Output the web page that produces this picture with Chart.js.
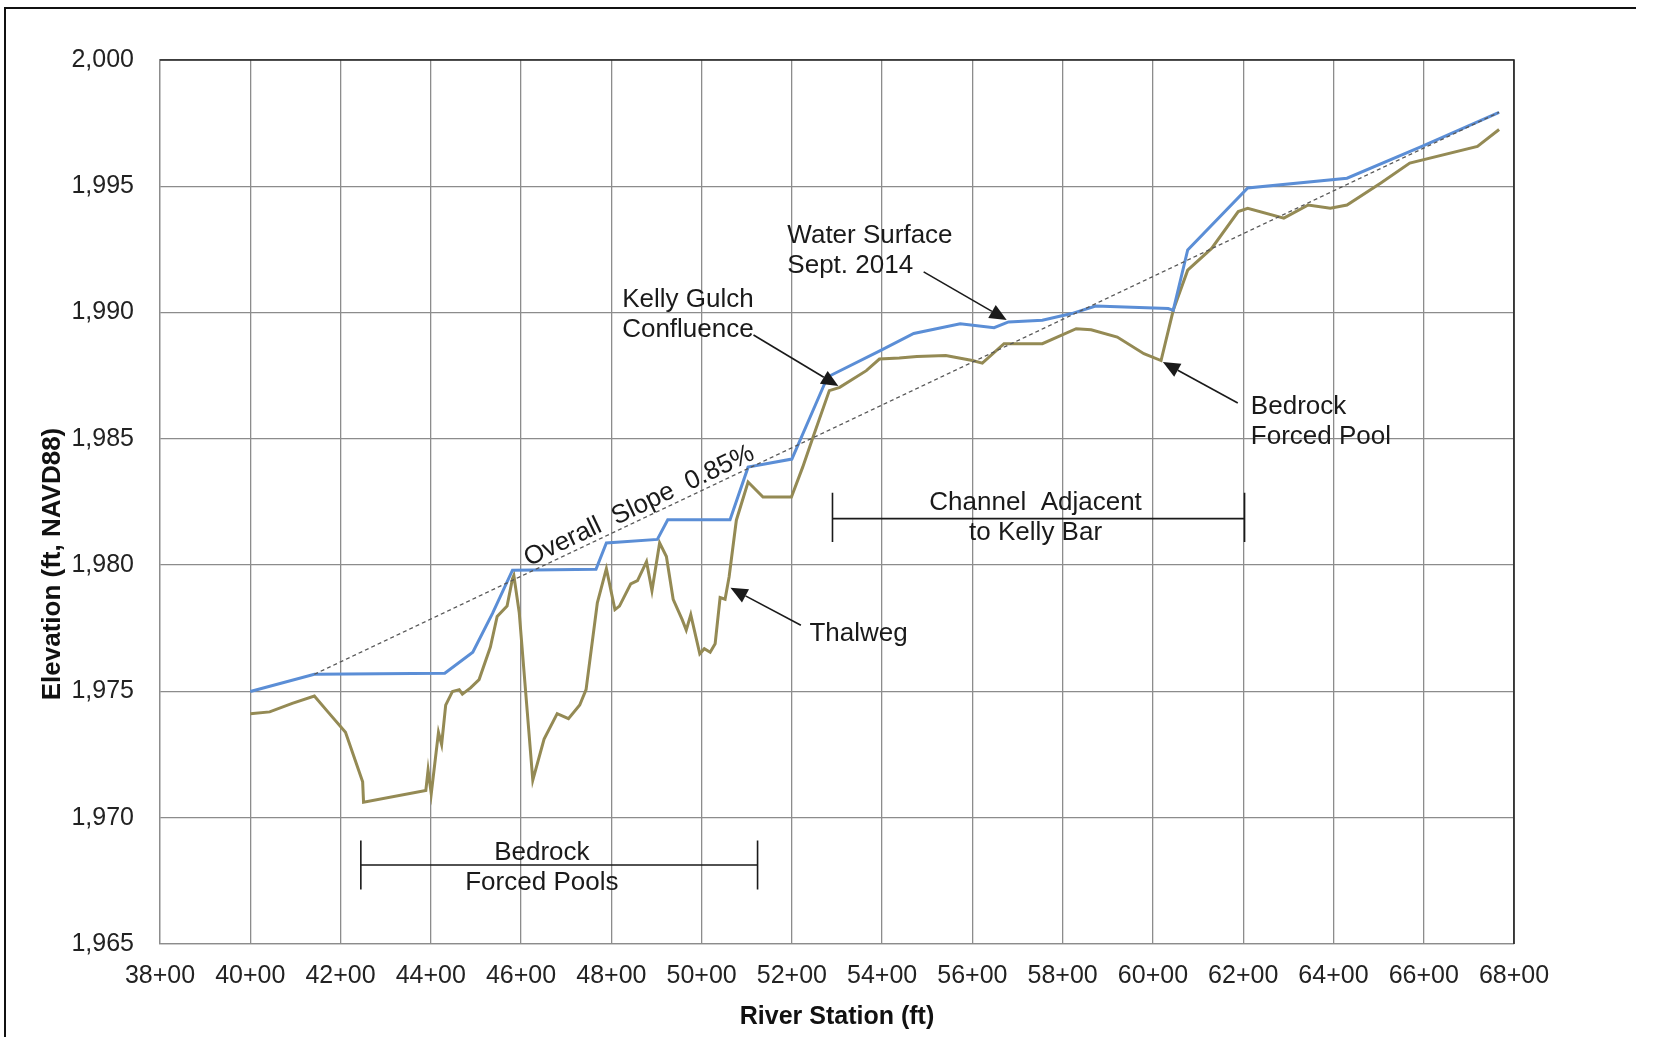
<!DOCTYPE html>
<html>
<head>
<meta charset="utf-8">
<script src="https://cdn.jsdelivr.net/npm/chart.js@4.4.1/dist/chart.umd.min.js"></script>
<style>
  html, body { margin: 0; padding: 0; background: #fff; overflow: hidden; }
  #wrap { position: relative; width: 1658px; height: 1037px; }
  #frame { position: absolute; left: 4px; top: 7px; width: 1630px; height: 1060px;
           border-left: 2px solid #111; border-top: 2px solid #111; pointer-events: none; }
</style>
</head>
<body>
<div id="wrap">
  <canvas id="profileChart"></canvas>
  <div id="frame"></div>
</div>
<script>
// River station in feet, elevation in ft NAVD88
const waterSurface = [
  [4000, 1975.00], [4142, 1975.68], [4431, 1975.72], [4493, 1976.55], [4537, 1978.10],
  [4581, 1979.80], [4766, 1979.84], [4789, 1980.88], [4902, 1981.02], [4925, 1981.80],
  [5063, 1981.80], [5103, 1983.88], [5200, 1984.20], [5279, 1987.45], [5397, 1988.50],
  [5470, 1989.17], [5573, 1989.56], [5648, 1989.40], [5680, 1989.63], [5755, 1989.70],
  [5820, 1989.96], [5873, 1990.26], [6034, 1990.16], [6045, 1990.09], [6077, 1992.48],
  [6210, 1994.93], [6430, 1995.32], [6596, 1996.58], [6767, 1997.93]
];

const thalweg = [
  [4000, 1974.12], [4043, 1974.19], [4093, 1974.53], [4142, 1974.82], [4172, 1974.19],
  [4211, 1973.38], [4249, 1971.42], [4251, 1970.61], [4389, 1971.08], [4394, 1971.89],
  [4401, 1970.95], [4417, 1973.38], [4424, 1972.90], [4433, 1974.46], [4448, 1975.00],
  [4463, 1975.07], [4470, 1974.89], [4488, 1975.14], [4507, 1975.47], [4532, 1976.76],
  [4547, 1977.97], [4569, 1978.38], [4581, 1979.46], [4584, 1979.59], [4596, 1978.11],
  [4626, 1971.49], [4651, 1973.11], [4680, 1974.12], [4705, 1973.92], [4730, 1974.46],
  [4744, 1975.07], [4769, 1978.51], [4789, 1979.86], [4808, 1978.24], [4818, 1978.38],
  [4843, 1979.26], [4858, 1979.39], [4878, 1980.14], [4890, 1978.99], [4907, 1980.88],
  [4922, 1980.34], [4937, 1978.65], [4957, 1977.84], [4966, 1977.43], [4976, 1978.04],
  [4996, 1976.49], [5006, 1976.69], [5019, 1976.55], [5030, 1976.89], [5041, 1978.72],
  [5052, 1978.65], [5061, 1979.54], [5077, 1981.78], [5103, 1983.29], [5136, 1982.70],
  [5199, 1982.70], [5224, 1983.88], [5247, 1985.07], [5283, 1986.91], [5306, 1987.04],
  [5365, 1987.70], [5394, 1988.16], [5438, 1988.20], [5477, 1988.26], [5541, 1988.30],
  [5600, 1988.10], [5622, 1988.00], [5670, 1988.77], [5755, 1988.77], [5830, 1989.36],
  [5863, 1989.32], [5921, 1989.03], [5980, 1988.37], [6018, 1988.10], [6045, 1990.09],
  [6077, 1991.68], [6130, 1992.54], [6189, 1994.00], [6210, 1994.13], [6290, 1993.74],
  [6344, 1994.26], [6393, 1994.13], [6430, 1994.26], [6505, 1995.13], [6569, 1995.92],
  [6719, 1996.58], [6767, 1997.25]
];

// overall slope trend (0.85%)
const slopeLine = [[4142, 1975.68], [6767, 1997.93]];

// axis ranges / ticks
const stationTicks = [3800, 6800, 200];
const elevTicks = [1965, 2000, 5];

// callout labels, in data units: [station, elevation]
const textNotes = [
  { at: [4824, 1990.22], lines: ['Kelly Gulch', 'Confluence'], align: 'left' },
  { at: [5190, 1992.76], lines: ['Water Surface', 'Sept. 2014'], align: 'left' },
  { at: [6217, 1986.00], lines: ['Bedrock', 'Forced Pool'], align: 'left' },
  { at: [5239, 1977.00], lines: ['Thalweg'], align: 'left' },
  { at: [5740, 1982.18], lines: ['Channel  Adjacent', 'to Kelly Bar'], align: 'center' },
  { at: [4646, 1968.33], lines: ['Bedrock', 'Forced Pools'], align: 'center' }
];
const arrowNotes = [
  { from: [5115, 1989.11], to: [5303, 1987.09] },
  { from: [5492, 1991.61], to: [5676, 1989.71] },
  { from: [6188, 1986.42], to: [6022, 1988.04] },
  { from: [5220, 1977.62], to: [5064, 1979.10] }
];
const brackets = [
  { x0: 5290, x1: 6203, y: 1981.84, top: 1982.87, bottom: 1980.92 },
  { x0: 4245, x1: 5124, y: 1968.13, top: 1969.10, bottom: 1967.16 }
];
const slopeLabel = { at: [4862, 1982.34], text: 'Overall  Slope  0.85%' };

const toPoints = arr => arr.map(p => ({ x: p[0], y: p[1] }));
const FONT = '"Liberation Sans", Arial, sans-serif';

function drawArrow(ctx, x1, y1, x2, y2) {
  const ang = Math.atan2(y2 - y1, x2 - x1);
  const len = 17, half = 7.5;
  const bx = x2 - len * Math.cos(ang), by = y2 - len * Math.sin(ang);
  ctx.beginPath();
  ctx.moveTo(x1, y1);
  ctx.lineTo(bx, by);
  ctx.stroke();
  ctx.beginPath();
  ctx.moveTo(x2, y2);
  ctx.lineTo(bx + half * Math.sin(ang), by - half * Math.cos(ang));
  ctx.lineTo(bx - half * Math.sin(ang), by + half * Math.cos(ang));
  ctx.closePath();
  ctx.fill();
}

const notesPlugin = {
  id: 'notes',
  afterDatasetsDraw(chart) {
    const { ctx, chartArea: area, scales: { x, y } } = chart;
    const px = v => x.getPixelForValue(v);
    const py = v => y.getPixelForValue(v);
    ctx.save();

    // darker top and right edge of the plot area
    ctx.strokeStyle = '#222';
    ctx.lineWidth = 1.6;
    ctx.beginPath();
    ctx.moveTo(area.left, area.top);
    ctx.lineTo(area.right, area.top);
    ctx.lineTo(area.right, area.bottom);
    ctx.stroke();

    ctx.fillStyle = '#1a1a1a';
    ctx.strokeStyle = '#1a1a1a';
    ctx.lineWidth = 1.6;
    ctx.font = '26px ' + FONT;
    ctx.textBaseline = 'alphabetic';

    textNotes.forEach(n => {
      ctx.textAlign = n.align;
      n.lines.forEach((t, i) => ctx.fillText(t, px(n.at[0]), py(n.at[1]) + i * 30));
    });

    arrowNotes.forEach(a => drawArrow(ctx, px(a.from[0]), py(a.from[1]), px(a.to[0]), py(a.to[1])));

    brackets.forEach(b => {
      ctx.beginPath();
      ctx.moveTo(px(b.x0), py(b.y));
      ctx.lineTo(px(b.x1), py(b.y));
      ctx.moveTo(px(b.x0), py(b.top));
      ctx.lineTo(px(b.x0), py(b.bottom));
      ctx.moveTo(px(b.x1), py(b.top));
      ctx.lineTo(px(b.x1), py(b.bottom));
      ctx.stroke();
    });

    // slope label follows the angle of the trend line
    const ang = Math.atan2(py(slopeLine[1][1]) - py(slopeLine[0][1]), px(slopeLine[1][0]) - px(slopeLine[0][0]));
    ctx.save();
    ctx.translate(px(slopeLabel.at[0]), py(slopeLabel.at[1]));
    ctx.rotate(ang);
    ctx.textAlign = 'center';
    ctx.textBaseline = 'middle';
    ctx.fillText(slopeLabel.text, 0, 0);
    ctx.restore();

    // y axis title (sits a bit below the axis centre in the original)
    ctx.save();
    ctx.translate(53, (area.top + area.bottom) / 2 + 62);
    ctx.rotate(-Math.PI / 2);
    ctx.font = 'bold 26px ' + FONT;
    ctx.fillStyle = '#111';
    ctx.textAlign = 'center';
    ctx.textBaseline = 'middle';
    ctx.fillText('Elevation (ft, NAVD88)', 0, 0);
    ctx.restore();

    ctx.restore();
  }
};

const ctx = document.getElementById('profileChart').getContext('2d');
const chart = new Chart(ctx, {
  type: 'scatter',
  data: {
    datasets: [
      {
        label: 'Overall Slope',
        data: toPoints(slopeLine),
        showLine: true,
        borderColor: '#555',
        borderWidth: 1.3,
        borderDash: [4, 3],
        pointRadius: 0
      },
      {
        label: 'Water Surface Sept. 2014',
        data: toPoints(waterSurface),
        showLine: true,
        borderColor: '#5b8ed6',
        borderWidth: 3,
        pointRadius: 0
      },
      {
        label: 'Thalweg',
        data: toPoints(thalweg),
        showLine: true,
        borderColor: '#948a54',
        borderWidth: 3,
        pointRadius: 0
      }
    ]
  },
  options: {
    responsive: true,
    maintainAspectRatio: false,
    animation: false,
    layout: { padding: { left: 0, top: 60, right: 144, bottom: 0 } },
    plugins: {
      legend: { display: false },
      tooltip: { enabled: false }
    },
    scales: {
      x: {
        type: 'linear',
        min: stationTicks[0],
        max: stationTicks[1],
        afterFit: s => { s.height = 93; },
        ticks: {
          stepSize: stationTicks[2],
          padding: 17,
          maxRotation: 0,
          autoSkip: false,
          color: '#222',
          font: { family: FONT, size: 25 },
          callback: v => (v / 100) + '+00'
        },
        grid: { color: '#8c8c8c', lineWidth: 1.3, drawTicks: false },
        border: { color: '#8c8c8c', width: 1.3 },
        title: {
          display: true,
          text: 'River Station (ft)',
          color: '#111',
          font: { family: FONT, size: 25, weight: 'bold' },
          padding: { top: 0, bottom: 5 }
        }
      },
      y: {
        type: 'linear',
        min: elevTicks[0],
        max: elevTicks[1],
        afterFit: s => { s.width = 160; },
        ticks: {
          stepSize: elevTicks[2],
          padding: 26,
          color: '#222',
          font: { family: FONT, size: 25 },
          callback: v => v.toLocaleString('en-US')
        },
        grid: { color: '#8c8c8c', lineWidth: 1.3, drawTicks: false },
        border: { color: '#8c8c8c', width: 1.3 }
      }
    }
  },
  plugins: [notesPlugin]
});
</script>
</body>
</html>
